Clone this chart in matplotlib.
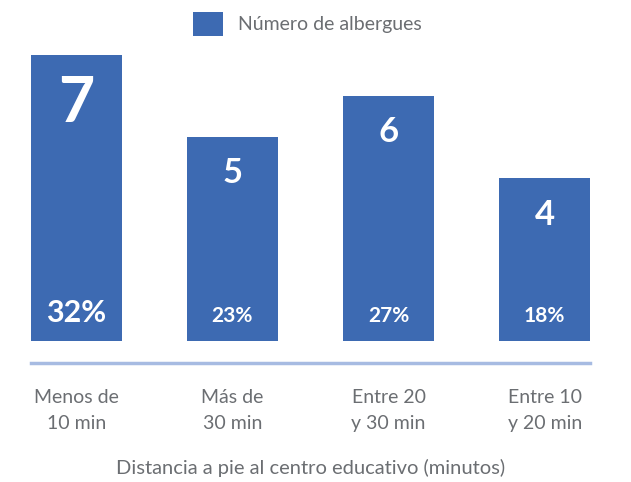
import matplotlib.pyplot as plt
import numpy as np

categories = ["Menos de\n10 min", "Más de\n30 min", "Entre 20\ny 30 min", "Entre 10\ny 20 min"]
albergues = [7, 5, 6, 4]
percentages = ["32%", "23%", "27%", "18%"]
series_name = "Número de albergues"
x_title = "Distancia a pie al centro educativo (minutos)"

bar_color = "#3d6ab2"
text_gray = "#6b6e72"
line_color = "#a7bbe2"

plt.rcParams["font.family"] = ["Lato", "DejaVu Sans"]

fig = plt.figure(figsize=(6.31, 4.82), dpi=100)
ax = fig.add_axes([31 / 631, 1 - 363 / 482, 559 / 631, (363 - 45) / 482])

x = np.arange(len(categories))
bars = ax.bar(x, albergues, width=0.58, color=bar_color, label=series_name)

ax.set_xlim(-0.29, 3.29)
ax.set_ylim(-0.54, 7.25)

# number near the top of each bar, percentage near the bottom
num_sizes = [45, 25, 25, 25]
num_offsets = [-67, -46, -46, -47]
pct_sizes = [22, 15, 15, 15]
for xi, val, pct, ns, no, ps in zip(x, albergues, percentages, num_sizes, num_offsets, pct_sizes):
    ax.annotate(str(val), (xi, val), xytext=(0, no * 0.72), textcoords="offset points",
                ha="center", va="baseline", color="white", fontsize=ns, fontweight="bold")
    ax.annotate(pct, (xi, 0), xytext=(0, 19 * 0.72), textcoords="offset points",
                ha="center", va="baseline", color="white", fontsize=ps, fontweight="bold")

for side in ["top", "right", "left"]:
    ax.spines[side].set_visible(False)
ax.spines["bottom"].set_color(line_color)
ax.spines["bottom"].set_linewidth(2.5)
ax.set_yticks([])
ax.set_xticks(x)
ax.set_xticklabels(categories, fontsize=14, color=text_gray, linespacing=1.62)
ax.tick_params(axis="x", length=0, pad=19)
ax.set_xlabel(x_title, fontsize=14.5, color=text_gray, labelpad=19)

fig.legend(handles=[bars], labels=[series_name], loc="center", bbox_to_anchor=(0.4865, 0.95),
           frameon=False, fontsize=14, labelcolor=text_gray, handlelength=1.55,
           handleheight=1.55, handletextpad=0.77, borderpad=0)

fig.savefig("out.png", dpi=100)
